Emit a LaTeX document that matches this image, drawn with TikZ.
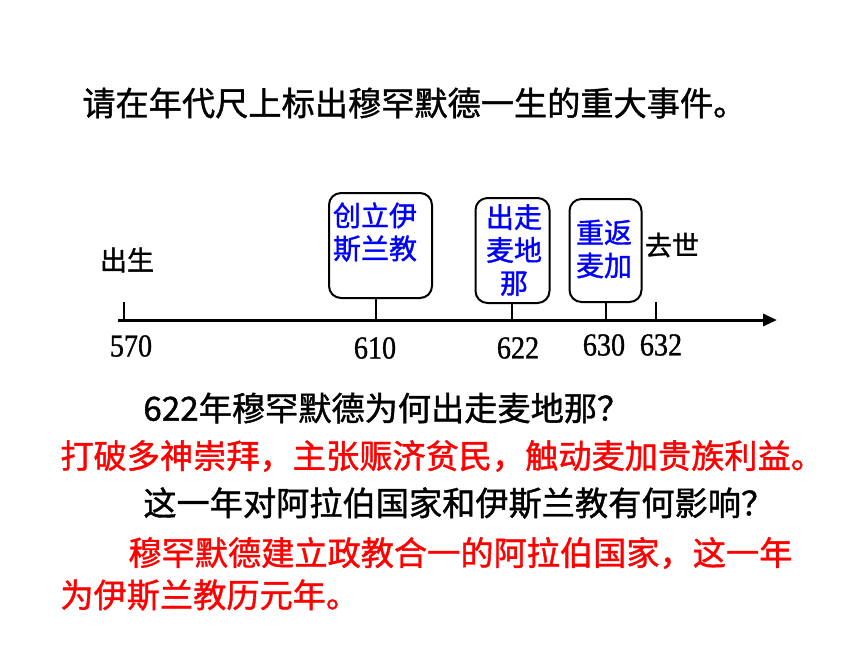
\documentclass[tikz,border=0pt]{standalone}
\usepackage{fontspec}
\newfontfamily\cjk[FakeBold=1.2]{Noto Sans CJK SC}
\newfontfamily\numfont[FakeStretch=0.88,FakeBold=1]{Liberation Serif}
\usetikzlibrary{arrows.meta,positioning}

\begin{document}
\begin{tikzpicture}[
    x=0.5pt, y=-0.5pt,
    title node/.style={anchor=west,inner sep=0,font=\cjk\fontsize{16.6}{20}\selectfont},
    answer node/.style={title node,text=red},
    event box/.style={draw,rounded corners=6pt,line width=1pt},
    event text/.style={align=center,inner sep=0,text=blue,font=\cjk\fontsize{14}{16.5}\selectfont},
    mark label/.style={inner sep=0,font=\cjk\fontsize{13.5}{16}\selectfont},
    year node/.style={inner sep=0,font=\numfont\fontsize{16}{18}\selectfont},
    tick/.style={line width=1pt}
]
\useasboundingbox (0,0) rectangle (860,645);

% Title
\node[title node] (title) at (82,103) {请在年代尺上标出穆罕默德一生的重大事件。};

% Time axis
\coordinate (axisstart) at (118,320);
\coordinate (axisend) at (777,320);
\draw[line width=1.5pt,-{Triangle[length=7pt,width=6pt]}] (axisstart) -- (axisend);

% Tick tops
\coordinate (t570) at (124,302);
\coordinate (t610) at (376,298);
\coordinate (t622) at (512,303);
\coordinate (t630) at (606,302);
\coordinate (t632) at (656,302);
\foreach \t in {570,610,622,630,632}
  \draw[tick] (t\t) -- (t\t |- axisstart);

% Years
\node[year node] (y570) at (131,346) {570};
\node[year node] (y610) at (375,348) {610};
\node[year node] (y622) at (518,348) {622};
\node[year node] (y630) at (604,345) {630};
\node[year node] (y632) at (661,345) {632};

% Birth and death
\node[mark label] (birth) at (127,260) {出生};
\node[mark label] (death) at (672,245) {去世};

% Events
\node[event box,minimum width=51.5pt,minimum height=52.5pt] (box610) at (380.5,245.5) {};
\node[event text] (ev610) at (375,232) {创立伊\\斯兰教};
\node[event box,minimum width=37pt,minimum height=52.5pt] (box622) at (512.5,250.5) {};
\node[event text] (ev622) at (514,250) {出走\\麦地\\那};
\node[event box,minimum width=36pt,minimum height=51.5pt] (box630) at (605.5,250.5) {};
\node[event text] (ev630) at (604,249) {重返\\麦加};

% Questions and answers
\node[title node] (q1) at (143,408) {622年穆罕默德为何出走麦地那？};
\node[answer node] (a1) at (60,456) {打破多神崇拜，主张赈济贫民，触动麦加贵族利益。};
\node[title node] (q2) at (143,503) {这一年对阿拉伯国家和伊斯兰教有何影响？};
\node[answer node] (a2) at (128,553) {穆罕默德建立政教合一的阿拉伯国家，这一年};
\node[answer node] (a3) at (60,595) {为伊斯兰教历元年。};

\end{tikzpicture}
\end{document}
